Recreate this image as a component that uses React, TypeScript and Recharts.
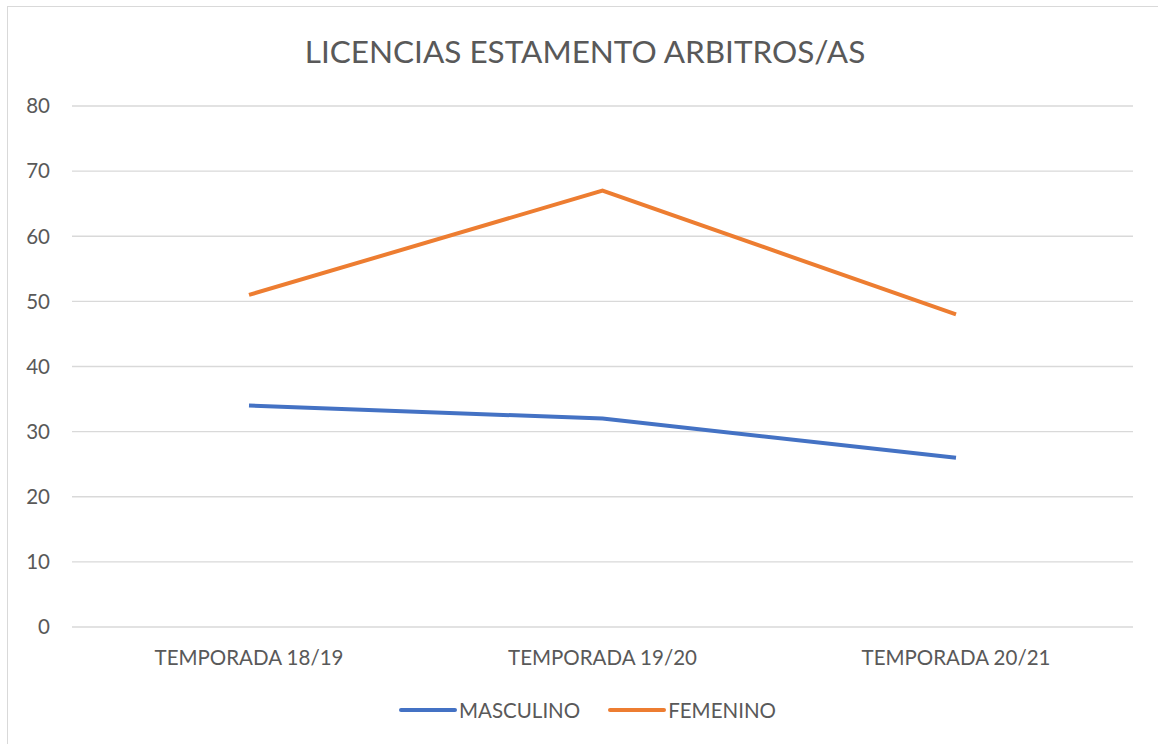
import { LineChart, Line, XAxis, YAxis, CartesianGrid, Legend } from 'recharts';

const CATEGORIES = ['TEMPORADA 18/19', 'TEMPORADA 19/20', 'TEMPORADA 20/21'];
const MASCULINO = [34, 32, 26];
const FEMENINO = [51, 67, 48];
const Y_TICKS = [0, 10, 20, 30, 40, 50, 60, 70, 80];

const SERIES = [
  { key: 'MASCULINO', color: '#4472C4' },
  { key: 'FEMENINO', color: '#ED7D31' },
];

const data = CATEGORIES.map((name, i) => ({
  name,
  MASCULINO: MASCULINO[i],
  FEMENINO: FEMENINO[i],
}));

const FONT = 'Lato, "Open Sans", sans-serif';
const TEXT_COLOR = '#595959';

function LegendContent() {
  return (
    <div
      style={{
        display: 'flex',
        justifyContent: 'center',
        alignItems: 'center',
        paddingLeft: 32,
        fontFamily: FONT,
        fontSize: 20.5,
        color: TEXT_COLOR,
      }}
    >
      {SERIES.map((s, i) => (
        <div key={s.key} style={{ display: 'flex', alignItems: 'center', marginLeft: i === 0 ? 0 : 28 }}>
          <svg width={58} height={8} style={{ marginRight: 2 }}>
            <line x1={2} y1={4} x2={56} y2={4} stroke={s.color} strokeWidth={4} strokeLinecap="round" />
          </svg>
          <span>{s.key}</span>
        </div>
      ))}
    </div>
  );
}

export default function App() {
  return (
    <div style={{ position: 'absolute', left: 0, top: 0, width: 1158, height: 744, background: '#fff', overflow: 'hidden' }}>
      <div
        style={{
          position: 'absolute',
          left: 7,
          top: 6,
          width: 1200,
          height: 800,
          borderLeft: '1px solid #d9d9d9',
          borderTop: '1px solid #d9d9d9',
        }}
      />
      <div
        style={{
          position: 'absolute',
          left: 0,
          top: 32,
          width: 1170,
          textAlign: 'center',
          fontFamily: FONT,
          fontSize: 31.5,
          color: TEXT_COLOR,
        }}
      >
        LICENCIAS ESTAMENTO ARBITROS/AS
      </div>
      <div style={{ position: 'absolute', left: 0, top: 0 }}>
        <LineChart width={1158} height={744} data={data} margin={{ top: 106, right: 25, bottom: 33, left: 10 }}>
          <CartesianGrid vertical={false} stroke="#d9d9d9" strokeWidth={1.3} />
          <XAxis
            dataKey="name"
            axisLine={false}
            tickLine={false}
            padding={{ left: 177, right: 177 }}
            tick={{ fontSize: 20.5, fill: TEXT_COLOR, fontFamily: FONT }}
            tickMargin={17}
            height={60}
          />
          <YAxis
            domain={[0, 80]}
            ticks={Y_TICKS}
            axisLine={false}
            tickLine={false}
            tick={{ fontSize: 20.5, fill: TEXT_COLOR, fontFamily: FONT, textAnchor: 'end' }}
            width={62}
            tickMargin={16}
          />
          <Legend verticalAlign="bottom" content={<LegendContent />} wrapperStyle={{ bottom: 22 }} />
          {SERIES.map((s) => (
            <Line
              key={s.key}
              type="linear"
              dataKey={s.key}
              stroke={s.color}
              strokeWidth={4}
              dot={false}
              activeDot={false}
              isAnimationActive={false}
            />
          ))}
        </LineChart>
      </div>
    </div>
  );
}
